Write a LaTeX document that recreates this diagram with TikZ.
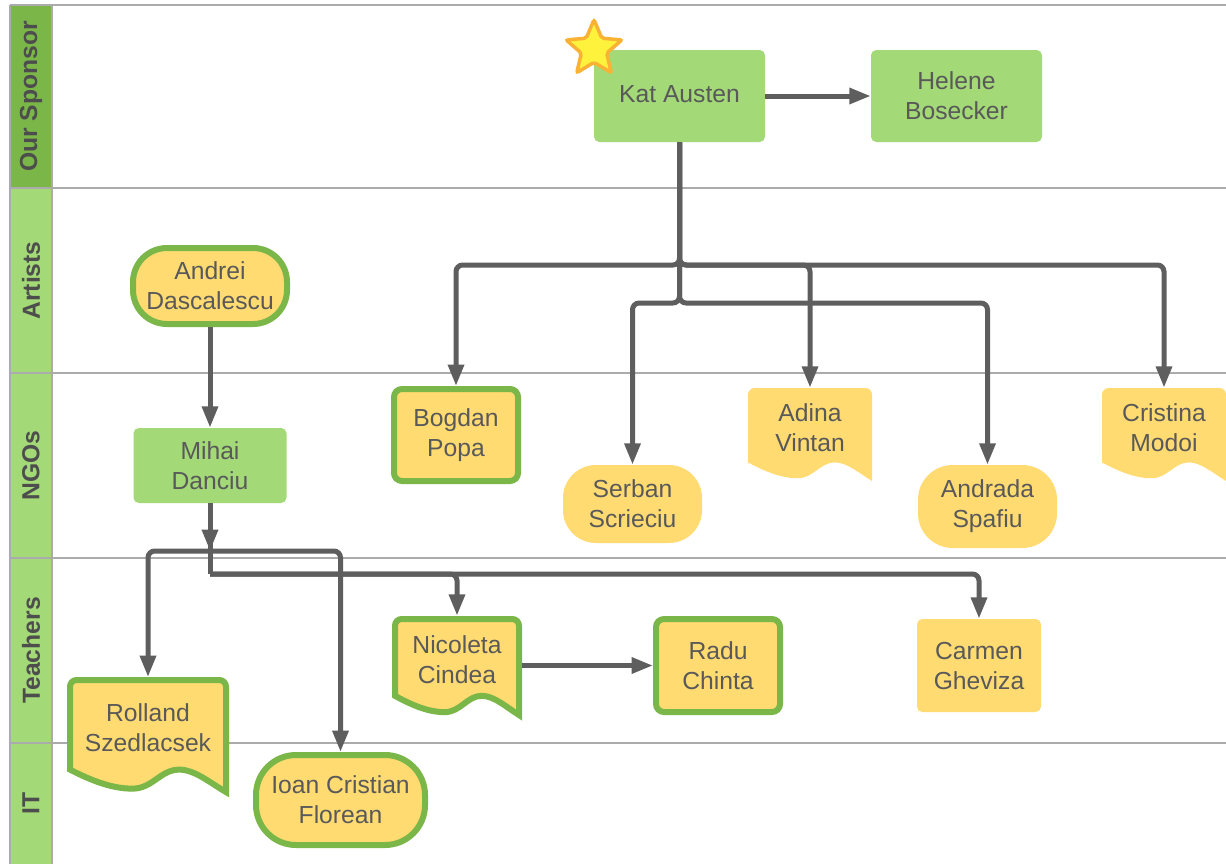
\documentclass[tikz,border=0pt]{standalone}
\usepackage{fontspec}
\setmainfont{Liberation Sans}
\usetikzlibrary{shapes.geometric,arrows.meta,calc}
\definecolor{dgreen}{HTML}{7AB648}
\definecolor{lgreen}{HTML}{A3D977}
\definecolor{yel}{HTML}{FFDB72}
\definecolor{txtc}{HTML}{595959}
\definecolor{hdrtxt}{HTML}{4D4D4D}
\definecolor{connc}{HTML}{5E5E5E}
\definecolor{lanegray}{HTML}{ABABAB}
\definecolor{starfill}{HTML}{FFF23C}
\definecolor{starline}{HTML}{F9B233}
\pgfdeclarelayer{lanes}
\pgfdeclarelayer{shapes}
\pgfsetlayers{lanes,shapes,main}
\tikzset{
  lbl/.style={font=\fontsize{18.5}{22.5}\selectfont, text=txtc, align=center, inner sep=0pt},
  hdr/.style={font=\bfseries\fontsize{18.5}{22}\selectfont, text=hdrtxt, rotate=90, inner sep=0pt},
  gbox/.style={lbl, rectangle, rounded corners=4pt, fill=lgreen},
  ybox/.style={lbl, rectangle, rounded corners=4pt, fill=yel},
  gborder/.style={draw=dgreen, line width=4.5pt},
  docnode/.style={lbl, rectangle},
  lane/.style={draw=lanegray, line width=1.5pt},
  conn/.style={draw=connc, line width=3.75pt, rounded corners=5pt},
  arr/.style={conn, -{Triangle[length=16pt,width=11.5pt]}},
}
% document shape: x1 y1 x2 y2 options
\newcommand{\docshape}[5]{%
  \path[#5] ({#1},{#2+0.8*(#4-#2)}) [rounded corners=5pt] -- (#1,#2) -- (#3,#2) [sharp corners] -- (#3,#4)
    .. controls ({#1+0.9*(#3-#1)},{#2+0.92*(#4-#2)}) and ({#1+0.8*(#3-#1)},{#2+0.8*(#4-#2)}) .. ({#1+0.7*(#3-#1)},{#2+0.8*(#4-#2)})
    .. controls ({#1+0.58*(#3-#1)},{#2+0.8*(#4-#2)}) and ({#1+0.53*(#3-#1)},{#2+0.97*(#4-#2)}) .. ({#1+0.4*(#3-#1)},{#2+0.97*(#4-#2)})
    .. controls ({#1+0.27*(#3-#1)},{#2+0.97*(#4-#2)}) and ({#1+0.14*(#3-#1)},{#2+0.9*(#4-#2)}) .. ({#1},{#2+0.8*(#4-#2)}) -- cycle;%
}
\begin{document}
\begin{tikzpicture}[x=0.75pt,y=-0.75pt]
\useasboundingbox (0,0) rectangle (1226,864);
% lanes
\begin{pgfonlayer}{lanes}
  \fill[white] (0,0) rectangle (1226,864);
  \fill[dgreen] (10,5) rectangle (52,188);
  \fill[lgreen] (10,188) rectangle (52,864);
  \draw[lane] (10,5) -- (1226,5);
  \draw[lane] (10,188) -- (1226,188);
  \draw[lane] (10,373) -- (1226,373);
  \draw[lane] (10,558) -- (1226,558);
  \draw[lane] (10,743) -- (1226,743);
  \draw[lane] (10,5) -- (10,864);
  \draw[lane] (52,5) -- (52,864);
\end{pgfonlayer}
\node[hdr] (hsp) at (31,96.5) {Our Sponsor};
\node[hdr] (har) at (31,280.5) {Artists};
\node[hdr] (hng) at (31,465.5) {NGOs};
\node[hdr] (hte) at (31,650.5) {Teachers};
\node[hdr] (hit) at (31,803.5) {IT};

% document shapes (backgrounds)
\begin{pgfonlayer}{shapes}
  \docshape{748}{388}{872}{481}{fill=yel}
  \docshape{1102}{388}{1226}{481}{fill=yel}
  \docshape{395}{619}{519}{715}{fill=yel, draw=dgreen, line width=4.5pt}
  \docshape{70}{680}{226}{792}{fill=yel, draw=dgreen, line width=4.5pt}
\end{pgfonlayer}

% sponsor
\node[gbox, minimum width=128.25pt, minimum height=69pt] (kat) at (679.5,96) {\raisebox{3pt}{Kat Austen}};
\node[gbox, minimum width=128.25pt, minimum height=69pt] (helene) at (956.5,96) {Helene\\Bosecker};
\node[star, star points=5, star point ratio=2.2, minimum size=44pt, fill=starfill, draw=starline, line width=2.6pt, rounded corners=1.5pt] (star) at (594,49) {};

% artists
\node[ybox, gborder, rounded corners=25.5pt, minimum width=115.5pt, minimum height=57pt] (andrei) at (210,286) {Andrei\\Dascalescu};

% NGOs
\node[gbox, minimum width=114.75pt, minimum height=56.25pt] (mihai) at (210,465.5) {Mihai\\Danciu};
\node[ybox, gborder, rounded corners=6pt, minimum width=93pt, minimum height=69pt] (bogdan) at (456,435) {Bogdan\\Popa};
\node[ybox, rounded corners=24.75pt, minimum width=104.25pt, minimum height=58.5pt] (serban) at (632.5,504) {Serban\\Scrieciu};
\node[docnode, minimum width=93pt, minimum height=60pt] (adina) at (810,428) {Adina\\Vintan};
\node[ybox, rounded corners=26pt, minimum width=104.25pt, minimum height=62.25pt] (andrada) at (987.5,506.5) {Andrada\\Spafiu};
\node[docnode, minimum width=93pt, minimum height=60pt] (cristina) at (1164,428) {Cristina\\Modoi};

% teachers
\node[docnode, minimum width=97.5pt, minimum height=66pt] (nicoleta) at (457,660) {Nicoleta\\Cindea};
\node[ybox, gborder, rounded corners=6pt, minimum width=93pt, minimum height=69.75pt] (radu) at (718,665.5) {Radu\\Chinta};
\node[ybox, minimum width=93pt, minimum height=69.75pt] (carmen) at (979,665.5) {Carmen\\Gheviza};
\node[docnode, minimum width=121.5pt, minimum height=76pt] (rolland) at (148,728) {Rolland\\Szedlacsek};

% IT
\node[ybox, gborder, rounded corners=30pt, minimum width=126.75pt, minimum height=67.5pt] (ioan) at (340.5,800) {Ioan Cristian\\Florean};

% junction coordinates
\coordinate (k1) at (679.5,265);
\coordinate (k2) at (679.5,303);
\coordinate (m1) at (210,551);
\coordinate (m2) at (210,574);

% connectors
\draw[arr] (kat.east) -- (helene.west);
\draw[arr] (kat.south) -- (k1) -| (bogdan.north);
\draw[arr] (kat.south) -- (k1) -| (cristina.north);
\draw[arr] (kat.south) -- (k1) -| (adina.north);
\draw[arr] (kat.south) -- (k2) -| (serban.north);
\draw[arr] (kat.south) -- (k2) -| (andrada.north);

\draw[arr] (andrei.south) -- (mihai.north);
\draw[arr] (mihai.south) -- (m1);
\draw[conn] (mihai.south) -- (m1);
\draw[arr] (m1) -| (rolland.north);
\draw[arr] (m1) -| (ioan.north);
\draw[conn] (mihai.south) -- (m2);
\draw[arr] (m2) -| (nicoleta.north);
\draw[arr] (m2) -| (carmen.north);

\draw[arr] (nicoleta.east |- radu.west) -- (radu.west);
\end{tikzpicture}
\end{document}
